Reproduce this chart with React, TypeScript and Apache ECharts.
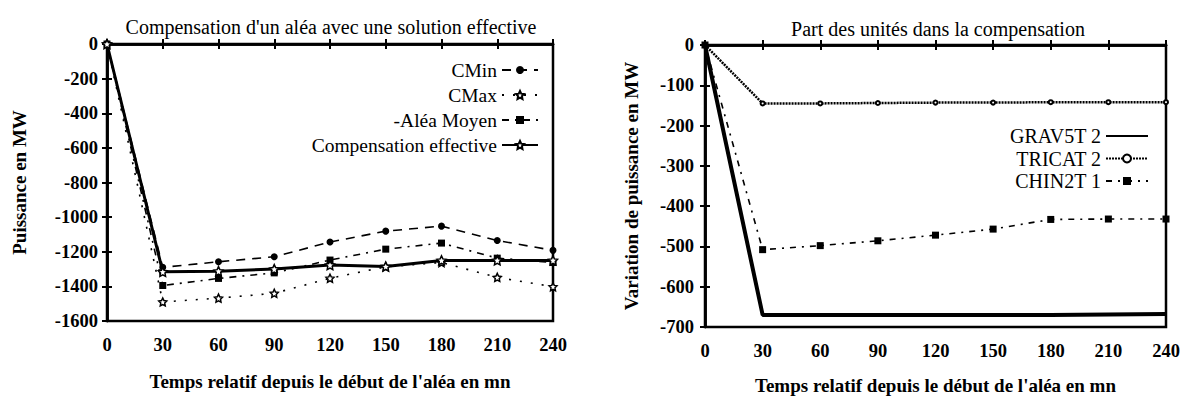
import React, { useEffect, useRef } from "react";
import * as echarts from "echarts";

const times = [0, 30, 60, 90, 120, 150, 180, 210, 240];

// Left chart
const cMin = [0, -1290, -1258, -1229, -1144, -1081, -1052, -1135, -1192];
const cMax = [0, -1490, -1468, -1440, -1353, -1287, -1262, -1348, -1402];
const aleaMoyen = [0, -1395, -1354, -1322, -1248, -1185, -1150, -1237, -1262];
const compEffective = [0, -1316, -1312, -1300, -1277, -1285, -1250, -1250, -1250];

// Right chart
const grav5t2 = [0, -670, -670, -670, -670, -670, -670, -669, -668];
const tricat2 = [0, -145, -145, -144, -143, -143, -142, -142, -142];
const chin2t1 = [0, -508, -498, -486, -472, -457, -433, -432, -432];

const leftTitle = "Compensation d'un aléa avec une solution effective";
const rightTitle = "Part des unités dans la compensation";
const xName = "Temps relatif depuis le début de l'aléa en mn";
const leftYName = "Puissance en MW";
const rightYName = "Variation de puissance en MW";

const FONT = "'Liberation Serif', 'Times New Roman', serif";
const STAR =
  "path://M0,-10 L2.9,-4 9.5,-3.1 4.7,1.5 5.9,8.1 0,5 -5.9,8.1 -4.7,1.5 -9.5,-3.1 -2.9,-4 Z";

const pairs = (ys: number[]) => times.map((t, i) => [t, ys[i]]);

export default function App() {
  const ref = useRef<HTMLDivElement>(null);
  useEffect(() => {
    if (!ref.current) return;
    const chart = echarts.init(ref.current, null, { renderer: "svg" });
    const tickLabel = {
      fontFamily: FONT,
      fontSize: 18.5,
      fontWeight: "bold" as const,
      color: "#000",
      formatter: (v: number) => String(v),
    };
    const axisLine = { show: true, lineStyle: { color: "#000", width: 2.5 } };
    const axisTick = { show: true, inside: true, length: 5, lineStyle: { color: "#000", width: 2 } };
    const nameStyle = { fontFamily: FONT, fontSize: 19, fontWeight: "bold" as const, color: "#000" };

    const mkX = (grid: number, pos: "bottom" | "top", labels: boolean, margin: number) => ({
      type: "value",
      gridIndex: grid,
      position: pos,
      min: 0,
      max: 240,
      interval: 30,
      axisLine,
      axisTick,
      splitLine: { show: false },
      axisLabel: { show: labels, margin, ...tickLabel },
      name: labels ? xName : "",
      nameLocation: "middle",
      nameGap: grid === 0 ? 51 : 49,
      nameTextStyle: nameStyle,
    });
    const mkY = (
      grid: number,
      pos: "left" | "right",
      labels: boolean,
      min: number,
      interval: number,
      name: string,
      gap: number,
      margin: number
    ) => ({
      type: "value",
      gridIndex: grid,
      position: pos,
      min,
      max: 0,
      interval,
      axisLine,
      axisTick,
      splitLine: { show: false },
      axisLabel: { show: labels, margin, ...tickLabel },
      name: labels ? name : "",
      nameLocation: "middle",
      nameGap: gap,
      nameTextStyle: nameStyle,
    });

    chart.setOption({
      animation: false,
      backgroundColor: "#fff",
      title: [
        {
          text: leftTitle,
          left: 326,
          textAlign: "center",
          top: 12,
          textStyle: { fontFamily: FONT, fontSize: 20, fontWeight: "normal", color: "#000" },
        },
        {
          text: rightTitle,
          left: 933,
          textAlign: "center",
          top: 14,
          textStyle: { fontFamily: FONT, fontSize: 20, fontWeight: "normal", color: "#000" },
        },
      ],
      grid: [
        { left: 107, top: 44, width: 446, height: 277, show: true, borderColor: "#000", borderWidth: 2.5 },
        { left: 705, top: 45, width: 461, height: 286, show: true, borderColor: "#000", borderWidth: 2.5 },
      ],
      xAxis: [
        mkX(0, "bottom", true, 14),
        mkX(0, "top", false, 8),
        mkX(1, "bottom", true, 14),
        mkX(1, "top", false, 8),
      ],
      yAxis: [
        mkY(0, "left", true, -1600, 200, leftYName, 78, 9),
        mkY(0, "right", false, -1600, 200, "", 0, 8),
        mkY(1, "left", true, -700, 100, rightYName, 64, 11),
        mkY(1, "right", false, -700, 100, "", 0, 8),
      ],
      legend: [
        {
          orient: "vertical",
          align: "right",
          right: 639,
          top: 55,
          itemWidth: 36,
          itemHeight: 10,
          itemGap: 5,
          data: ["CMin", "CMax", "-Aléa Moyen", "Compensation effective"],
          textStyle: { fontFamily: FONT, fontSize: 19.5, color: "#000" },
        },
        {
          orient: "vertical",
          align: "right",
          right: 29,
          top: 121,
          itemWidth: 42,
          itemHeight: 10,
          itemGap: 2.5,
          data: [
            { name: "GRAV5T 2", itemStyle: { color: "rgba(0,0,0,0)", borderColor: "rgba(0,0,0,0)", borderWidth: 0 } },
            "TRICAT 2",
            "CHIN2T 1",
          ],
          textStyle: { fontFamily: FONT, fontSize: 20, color: "#000" },
        },
      ],
      series: [
        {
          name: "CMin",
          type: "line",
          xAxisIndex: 0,
          yAxisIndex: 0,
          data: pairs(cMin),
          symbol: "circle",
          symbolSize: 7,
          itemStyle: { color: "#000" },
          lineStyle: { color: "#000", width: 1.6, type: [9, 7] },
        },
        {
          name: "CMax",
          type: "line",
          xAxisIndex: 0,
          yAxisIndex: 0,
          data: pairs(cMax),
          symbol: STAR,
          symbolSize: 8,
          itemStyle: { color: "#fff", borderColor: "#000", borderWidth: 1.5 },
          lineStyle: { color: "#000", width: 1.6, type: [2, 9] },
        },
        {
          name: "-Aléa Moyen",
          type: "line",
          xAxisIndex: 0,
          yAxisIndex: 0,
          data: pairs(aleaMoyen),
          symbol: "rect",
          symbolSize: 7,
          itemStyle: { color: "#000" },
          lineStyle: { color: "#000", width: 1.6, type: [7, 6, 2, 6] },
        },
        {
          name: "Compensation effective",
          type: "line",
          xAxisIndex: 0,
          yAxisIndex: 0,
          data: pairs(compEffective),
          symbol: STAR,
          symbolSize: 9,
          itemStyle: { color: "#fff", borderColor: "#000", borderWidth: 1.5 },
          lineStyle: { color: "#000", width: 3 },
        },
        {
          name: "GRAV5T 2",
          type: "line",
          xAxisIndex: 2,
          yAxisIndex: 2,
          data: pairs(grav5t2),
          symbol: "none",
          itemStyle: { color: "#000" },
          lineStyle: { color: "#000", width: 4 },
        },
        {
          name: "TRICAT 2",
          type: "line",
          xAxisIndex: 2,
          yAxisIndex: 2,
          data: pairs(tricat2),
          symbol: "emptyCircle",
          symbolSize: 4,
          itemStyle: { color: "#000", borderColor: "#000" },
          lineStyle: { color: "#000", width: 2.5, type: [2, 1] },
        },
        {
          name: "CHIN2T 1",
          type: "line",
          xAxisIndex: 2,
          yAxisIndex: 2,
          data: pairs(chin2t1),
          symbol: "rect",
          symbolSize: 7,
          itemStyle: { color: "#000" },
          lineStyle: { color: "#000", width: 1.6, type: [6, 6, 2, 6] },
        },
      ],
    });
    return () => chart.dispose();
  }, []);
  return (
    <div
      ref={ref}
      style={{ position: "absolute", left: 0, top: 0, width: 1183, height: 400, background: "#fff" }}
    />
  );
}
